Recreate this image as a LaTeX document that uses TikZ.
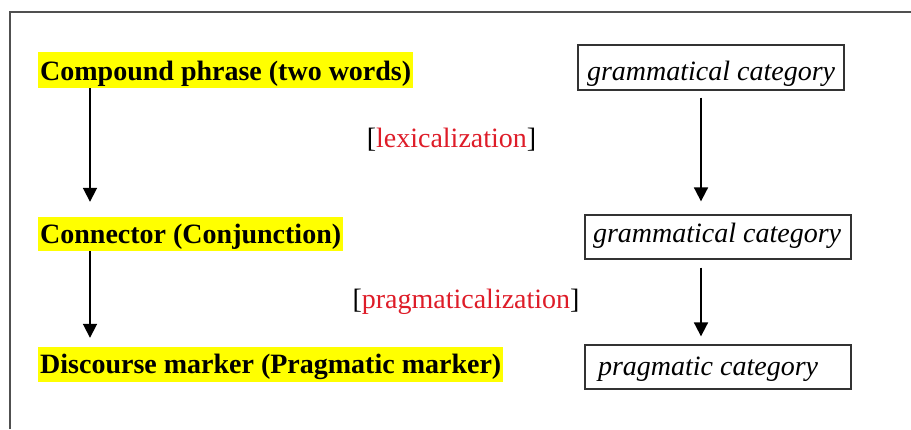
\documentclass[tikz,border=0pt]{standalone}
\usepackage{fontspec}
\setmainfont{Liberation Serif}[
  UprightFont={Liberation Serif},
  BoldFont={Liberation Serif Bold},
  ItalicFont={Liberation Serif Italic},
  BoldItalicFont={Liberation Serif Bold Italic}]
\usetikzlibrary{arrows.meta}
\definecolor{hlyellow}{RGB}{255,255,0}
\definecolor{labelred}{RGB}{222,28,40}
\definecolor{framegray}{RGB}{80,80,80}
\tikzset{
  stage/.style={fill=hlyellow, anchor=west, inner xsep=2pt, inner ysep=0pt,
    font=\fontsize{28}{30}\selectfont\bfseries},
  catbox/.style={draw=black!80, line width=1.3pt, inner ysep=0pt,
    font=\fontsize{28}{30}\selectfont\itshape},
  procname/.style={anchor=base, inner sep=0pt, font=\fontsize{28}{30}\selectfont},
  flow/.style={line width=1.8pt, -{Triangle[width=14pt,length=14pt]}}
}
\begin{document}
\begin{tikzpicture}[x=1pt,y=-1pt]
\useasboundingbox (0,0) rectangle (911,429);
% outer frame (only its top and left sides fall inside the page)
\draw[framegray, line width=1.5pt] (10,429) -- (10,12) -- (911,12);

% vertical axes of the two arrow columns
\coordinate (axL) at (90,0);
\coordinate (axR) at (701,0);

% left column: highlighted stages
\node[stage, text height=28pt, text depth=8pt] (hl1) at (38,70)
  {Compound phrase (two words)\hspace{7pt}};
\node[stage, text height=26pt, text depth=8pt] (hl2) at (38,234)
  {Connector (Conjunction)};
\node[stage, text height=26pt, text depth=9pt] (hl3) at (38,364.5)
  {Discourse marker (Pragmatic marker)};

% right column: category boxes
\node[catbox, inner xsep=9pt, text height=35pt, text depth=10pt]
  (box1) at (711,67.5) {\makebox[248pt][l]{grammatical category}};
\node[catbox, inner xsep=8pt, text height=27pt, text depth=17pt]
  (box2) at (718,237) {\makebox[250pt][l]{grammatical category}};
\node[catbox, inner xsep=13pt, text height=30pt, text depth=14pt]
  (box3) at (718,367) {\makebox[240pt][l]{pragmatic category}};

% process labels
\node[procname] (lex) at (451.5,147)
  {[\textcolor{labelred}{lexicalization}]};
\node[procname] (prag) at (466,308)
  {[\textcolor{labelred}{pragmaticalization}]};

% arrows
\draw[flow, shorten >=15pt] (hl1.south -| axL) -- (hl2.north -| axL);
\draw[flow, shorten >=9pt] (hl2.south -| axL) -- (hl3.north -| axL);
\draw[flow, shorten <=7pt, shorten >=13pt] (box1.south -| axR) -- (box2.north -| axR);
\draw[flow, shorten <=8pt, shorten >=8pt] (box2.south -| axR) -- (box3.north -| axR);
\end{tikzpicture}
\end{document}
